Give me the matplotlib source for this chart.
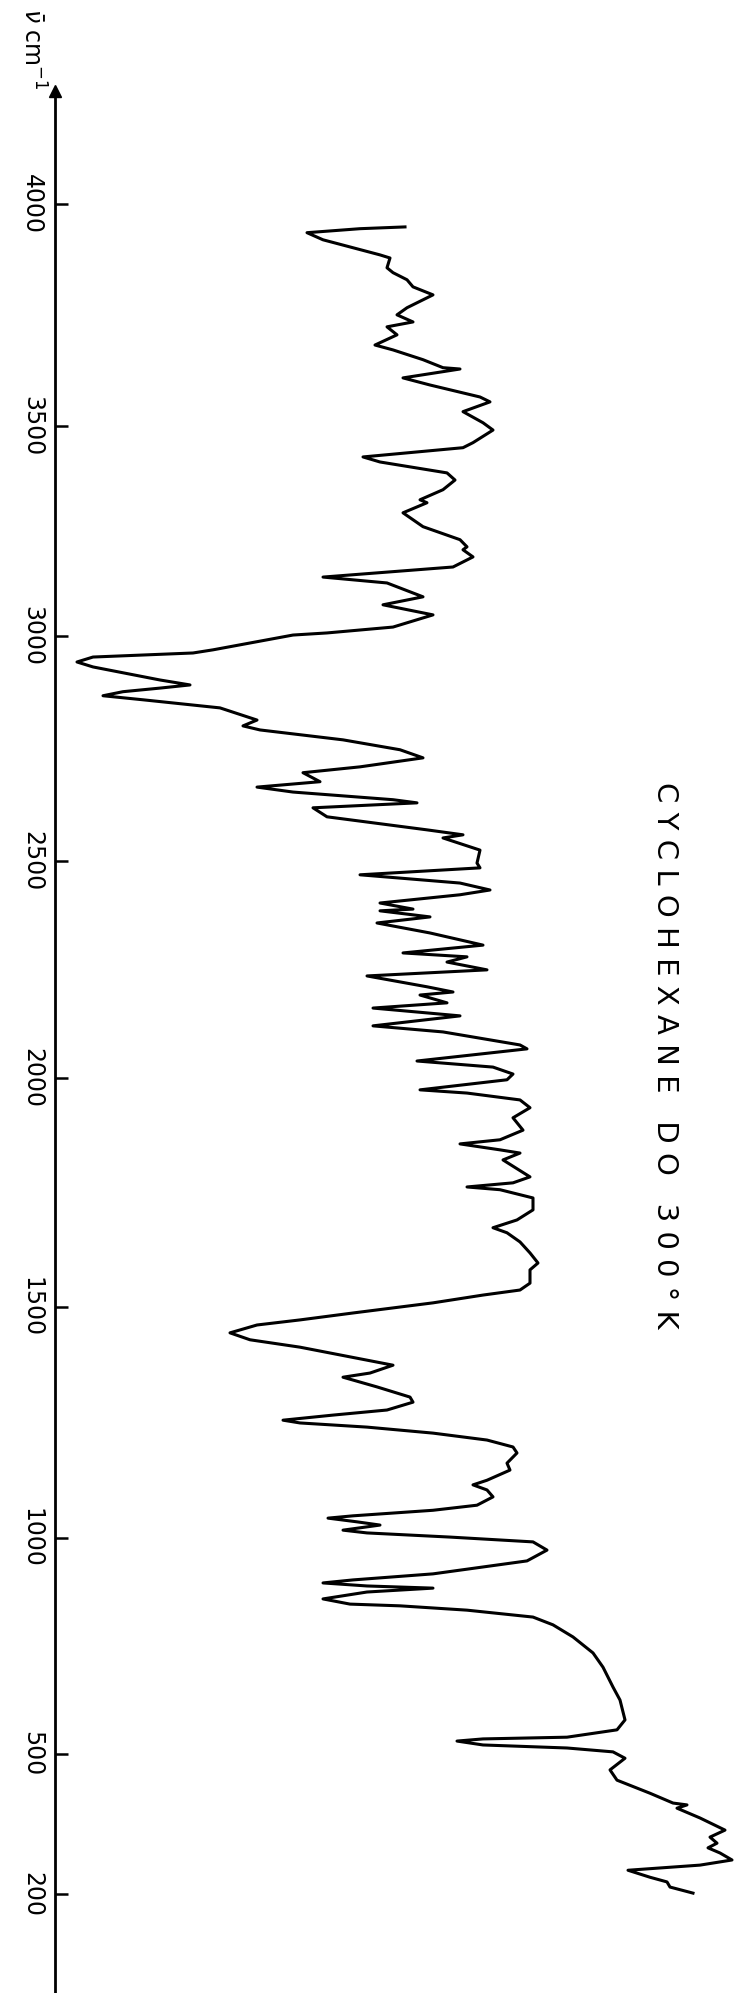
import numpy as np
import matplotlib
matplotlib.use("Agg")
from matplotlib import pyplot as plt

# wavenumber (cm-1) and recorder signal (arbitrary units, larger = more transmission)
wavenumber = [3948, 3944, 3935, 3919, 3885, 3878, 3856, 3845, 3829, 3813, 3795, 3766, 3750, 3734, 3723, 3705,
              3682, 3671, 3649, 3631, 3628, 3608, 3592, 3565, 3554, 3532, 3507,
              3490, 3460, 3448, 3426, 3414, 3388, 3371, 3348, 3324, 3317, 3293, 3260, 3229, 3212, 3205, 3188,
              3164, 3140, 3126, 3093, 3074, 3050, 3021, 3007, 3002,
              2969, 2962, 2953, 2942, 2931, 2902, 2891, 2884, 2876, 2867, 2858, 2840, 2813, 2800, 2791, 2769,
              2747, 2729, 2709, 2696, 2676, 2664, 2653, 2636, 2629, 2618, 2598, 2569, 2558, 2551, 2524,
              2495, 2484, 2468, 2449, 2433, 2422, 2403, 2389, 2385, 2371, 2357, 2334, 2306, 2288, 2279, 2267,
              2249, 2235, 2210, 2198, 2191, 2173, 2161, 2143, 2120, 2106, 2076, 2067, 2039, 2025, 2009,
              1996, 1974, 1967, 1952, 1935, 1913, 1886, 1865, 1856, 1843, 1836, 1821, 1784, 1771, 1762, 1756,
              1738, 1712, 1690, 1673, 1662, 1642, 1618, 1596, 1581, 1552, 1537, 1526, 1509,
              1487, 1472, 1461, 1444, 1429, 1413, 1392, 1374, 1357, 1348, 1327, 1305, 1294, 1277, 1266, 1255,
              1249, 1240, 1227, 1212, 1197, 1184, 1162, 1147, 1125, 1115, 1104, 1089, 1071, 1060, 1048, 1043,
              1035, 1028, 1017, 1011, 1002,
              991, 972, 947, 917, 903, 896, 889, 884, 875, 859, 847, 843, 833, 817, 799, 771, 734, 701, 655,
              625, 579, 556, 539, 535, 530, 521, 514, 505,
              491, 466, 444, 416, 395, 391, 384, 363, 337, 322, 309, 299, 288, 273, 262, 251, 236, 226, 215, 202]
signal = [405, 360, 307, 323, 380, 390, 387, 393, 407, 413, 433, 407, 397, 413, 387, 397,
          375, 393, 423, 443, 460, 403, 430, 480, 490, 463, 483,
          493, 473, 463, 363, 380, 447, 455, 443, 420, 427, 403, 423, 460, 467, 463, 473,
          453, 323, 387, 423, 383, 433, 393, 327, 293,
          213, 193, 93, 77, 93, 160, 190, 160, 123, 103, 143, 220, 257, 243, 260, 343,
          400, 423, 360, 303, 320, 257, 293, 393, 417, 313, 327, 427, 463, 443, 480,
          477, 480, 360, 460, 490, 460, 380, 413, 380, 430, 377, 430, 483, 403, 467, 447,
          487, 367, 427, 453, 420, 447, 373, 460, 373, 443, 520, 527, 417, 493, 513,
          507, 420, 467, 520, 530, 513, 523, 500, 460, 500, 520, 503, 530, 513, 467, 500,
          533, 533, 517, 493, 507, 520, 530, 538, 530, 530, 520, 483, 433,
          353, 300, 257, 230, 250, 300, 350, 393, 370, 343, 377, 410, 413, 387, 333, 283,
          300, 367, 433, 487, 513, 517, 507, 510, 487, 473, 487, 493, 477, 433, 353, 328,
          357, 380, 343, 367, 450,
          533, 547, 527, 433, 353, 323, 367, 433, 367, 323, 350, 400, 467, 533, 553, 573, 593, 603, 613,
          620, 625, 617, 567, 483, 457, 483, 567, 613,
          625, 610, 617, 650, 673, 687, 677, 700, 725, 710, 717, 708, 720, 732, 700, 628, 650, 667, 670, 693]

tick_values = [4000, 3500, 3000, 2500, 2000, 1500, 1000, 500, 200]
tick_labels = ["4000", "3500", "3000", "2500", "2000", "1500", "1000", "500", "200"]
title_words = ["CYCLOHEXANE", "DO", "300°K"]

# the chart paper scale is not quite linear: row (from top) of each wavenumber
scale_wn = np.array([-1000, 200, 500, 1000, 1500, 2000, 2500, 3000, 3500, 4000, 6000])
scale_row = np.array([2454, 1894, 1754, 1538, 1307, 1078, 861, 636, 426, 204, -684])

def forward(w):
    return np.interp(w, scale_wn, -scale_row)

def inverse(v):
    return np.interp(v, -scale_row, scale_wn)

fig = plt.figure(figsize=(7.41, 19.93), dpi=100)
ax = fig.add_axes([0, 0, 1, 1])
ax.set_yscale("function", functions=(forward, inverse))
ax.set_xlim(0, 741)
ax.set_ylim(-12, 4459)

ax.plot(signal, wavenumber, color="black", lw=2.2, solid_joinstyle="round")

for s in ["top", "right", "bottom"]:
    ax.spines[s].set_visible(False)
ax.spines["left"].set_position(("data", 55))
ax.spines["left"].set_linewidth(2.0)
ax.spines["left"].set_bounds(-12, 4255)
ax.plot(55, 4255, marker="^", ms=9, color="black", clip_on=False)

ax.set_xticks([])
ax.set_yticks(tick_values)
ax.set_yticklabels(tick_labels)
ax.yaxis.set_minor_locator(matplotlib.ticker.NullLocator())
ax.tick_params(axis="y", direction="in", length=9, width=1.8, pad=8,
               labelsize=17, labelrotation=-90)
for lab in ax.get_yticklabels():
    lab.set_va("center")

ax.text(32, 4440, r"$\bar{\nu}$ cm$^{-1}$", rotation=-90, fontsize=17,
        ha="center", va="top")

# the lettering on the original is widely spaced
title = "   ".join(" ".join(w) for w in title_words)
ax.text(665, 2675, title, rotation=-90, fontsize=21, ha="center", va="top")

fig.savefig("out.png", dpi=100)
